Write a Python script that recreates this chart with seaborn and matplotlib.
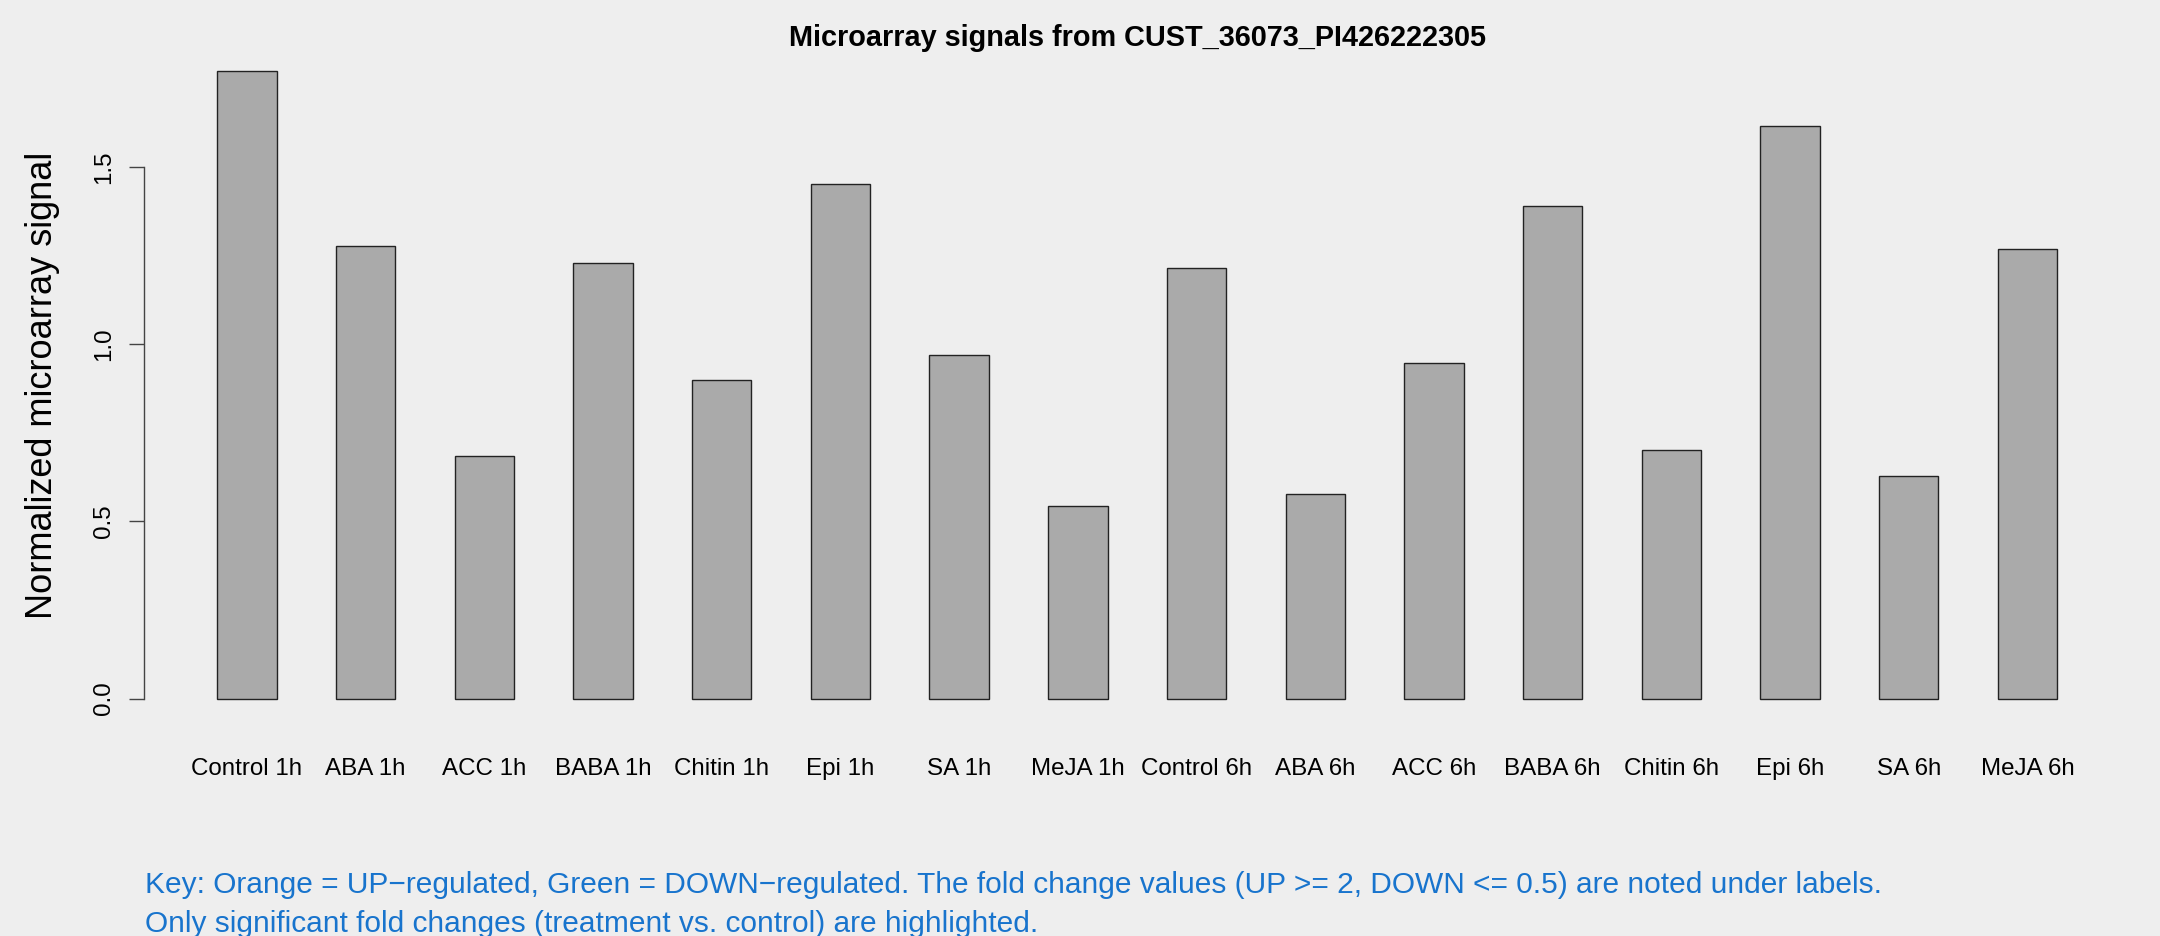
import pandas as pd
import matplotlib
matplotlib.use("Agg")
import matplotlib.pyplot as plt
import seaborn as sns

# Data
labels = ["Control 1h", "ABA 1h", "ACC 1h", "BABA 1h", "Chitin 1h", "Epi 1h", "SA 1h", "MeJA 1h",
          "Control 6h", "ABA 6h", "ACC 6h", "BABA 6h", "Chitin 6h", "Epi 6h", "SA 6h", "MeJA 6h"]
signal = [1.771, 1.279, 0.686, 1.229, 0.900, 1.453, 0.970, 0.545,
          1.216, 0.577, 0.947, 1.391, 0.701, 1.617, 0.627, 1.270]
ytick_vals = [0.0, 0.5, 1.0, 1.5]
ytick_labels = ["0.0", "0.5", "1.0", "1.5"]

title = "Microarray signals from CUST_36073_PI426222305"
ylabel = "Normalized microarray signal"
key_line1 = ("Key: Orange = UP\u2212regulated, Green = DOWN\u2212regulated. The fold change values "
             "(UP >= 2, DOWN <= 0.5) are noted under labels.")
key_line2 = "Only significant fold changes (treatment vs. control) are highlighted."

df = pd.DataFrame({"label": labels, "signal": signal})

sns.set_style("white")
plt.rcParams['font.family'] = ['Liberation Sans', 'DejaVu Sans']
plt.rcParams['text.color'] = 'black'
plt.rcParams['axes.labelcolor'] = 'black'
plt.rcParams['xtick.color'] = 'black'
plt.rcParams['ytick.color'] = 'black'
bg = "#EEEEEE"

fig = plt.figure(figsize=(21.6, 9.36), dpi=100, facecolor=bg)
ax = fig.add_axes([143.7 / 2160, 1 - 723.6 / 936, (2130.7 - 143.7) / 2160, (723.6 - 46.3) / 936])
ax.set_facecolor(bg)

sns.barplot(data=df, x="label", y="signal", ax=ax, width=0.5, color="#AAAAAA",
            saturation=1, edgecolor="#222222", linewidth=1.0)

ymax = max(signal)
ax.set_ylim(-0.04 * ymax, ymax * 1.04)
ax.set_xlim(-0.87, len(labels) - 1 + 0.87)

for side in ["top", "right", "bottom"]:
    ax.spines[side].set_visible(False)
ax.spines["left"].set_bounds(0, 1.5)
ax.spines["left"].set_color("#444444")
ax.spines["left"].set_linewidth(1.0)

ax.set_yticks(ytick_vals)
ax.set_yticklabels(ytick_labels, rotation=90, va="center", fontsize=17.4)
ax.tick_params(axis="y", direction="out", length=10.8, width=1.0, color="#444444",
               labelcolor="black", pad=10, left=True)
ax.tick_params(axis="x", length=0, pad=25, labelsize=17.4, labelcolor="black")

ax.set_xlabel("")
ax.set_ylabel(ylabel, fontsize=26, color="black")
ax.yaxis.set_label_coords(-0.042, 0.5)
ax.set_title(title, fontsize=20.8, fontweight="bold", pad=0, color="black")

fig.text(145 / 2160, 1 - 893.3 / 936, key_line1, color="#1874CD", fontsize=21.5, va="baseline")
fig.text(145 / 2160, 1 - 932.3 / 936, key_line2, color="#1874CD", fontsize=21.5, va="baseline")

fig.savefig("out.png", dpi=100, facecolor=bg)
